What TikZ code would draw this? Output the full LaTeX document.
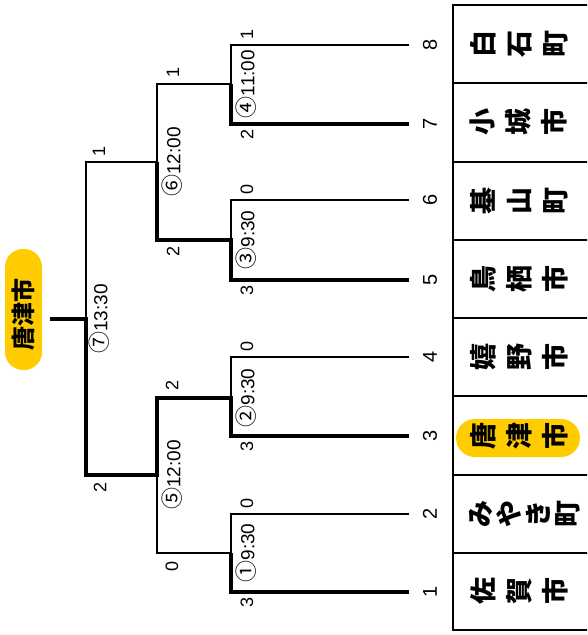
\documentclass[tikz,border=0pt]{standalone}
\usepackage{fontspec}
\setmainfont{Liberation Sans}
\newfontfamily\jp{Noto Sans CJK JP}
\usetikzlibrary{positioning}
\definecolor{badge}{RGB}{255,204,0}
\newcommand\gno[1]{{\jp\fontsize{22}{22}\selectfont #1}}

\begin{document}
\begin{tikzpicture}[line join=miter,x=1pt,y=-1pt,
  thinline/.style={line width=1.7pt},
  winline/.style={line width=4.2pt},
  cell/.style={line width=2.3pt},
  num/.style={rotate=90,inner sep=0pt,outer ysep=14pt,font=\fontsize{20}{20}\selectfont},
  score/.style={rotate=90,inner sep=0pt,font=\fontsize{18}{18}\selectfont},
  game/.style={rotate=90,inner sep=0pt,font=\fontsize{19}{19}\selectfont},
  team/.style={rotate=90,anchor=north,align=center,inner sep=0pt,font=\jp\bfseries\fontsize{27}{36}\selectfont},
  champ/.style={rotate=90,inner sep=0pt,font=\jp\bfseries\fontsize{24}{24}\selectfont}]
\clip(0,0) rectangle (587,635);
% table of teams
\draw[cell] (453,5) rectangle (600,630);
\draw[cell] (453,83)--(600,83);
\draw[cell] (453,162)--(600,162);
\draw[cell] (453,240)--(600,240);
\draw[cell] (453,318)--(600,318);
\draw[cell] (453,396)--(600,396);
\draw[cell] (453,475)--(600,475);
\draw[cell] (453,553)--(600,553);
% yellow marks
\fill[badge,rounded corners=19pt] (456,419) rectangle (580,457);
\fill[badge,rounded corners=18pt] (5,249) rectangle (42,370);
% team names
\node[team] (c1) at (470,591) {佐\\賀\\市};
\node[team,font=\jp\bfseries\fontsize{27}{29}\selectfont] (c2) at (469,514) {み\\や\\き\\町};
\node[team] (c3) at (470,436) {唐\\津\\市};
\node[team] (c4) at (470,357) {嬉\\野\\市};
\node[team] (c5) at (470,279) {鳥\\栖\\市};
\node[team] (c6) at (470,201) {基\\山\\町};
\node[team] (c7) at (470,122) {小\\城\\市};
\node[team] (c8) at (470,44) {白\\石\\町};
% team numbers
\node[num] (n1) at (430,592) {1};
\node[num] (n2) at (430,514) {2};
\node[num] (n3) at (430,436) {3};
\node[num] (n4) at (430,357) {4};
\node[num] (n5) at (430,280) {5};
\node[num] (n6) at (430,200) {6};
\node[num] (n7) at (430,124) {7};
\node[num] (n8) at (430,45) {8};
\node[champ] (champ) at (23.5,314) {唐津市};
% match points
\coordinate (m1t) at (231,514); \coordinate (m1m) at (231,553); \coordinate (m1b) at (231,592);
\coordinate (m2t) at (231,357); \coordinate (m2m) at (231,398); \coordinate (m2b) at (231,436);
\coordinate (m3t) at (231,200); \coordinate (m3m) at (231,240); \coordinate (m3b) at (231,280);
\coordinate (m4t) at (231,45); \coordinate (m4m) at (231,84); \coordinate (m4b) at (231,124);
\coordinate (m5t) at (157,398); \coordinate (m5m) at (157,475); \coordinate (m5b) at (157,553);
\coordinate (m6t) at (157,84); \coordinate (m6m) at (157,162); \coordinate (m6b) at (157,240);
\coordinate (m7t) at (86,162); \coordinate (m7m) at (86,319); \coordinate (m7b) at (86,475);
\coordinate (w) at (50,319);
% losing lines
\draw[thinline] (n2.north)--(m1t)--(m1m)--(m5b)--(m5m);
\draw[thinline] (n4.north)--(m2t)--(m2m);
\draw[thinline] (n6.north)--(m3t)--(m3m);
\draw[thinline] (n8.north)--(m4t)--(m4m)--(m6t)--(m6m)--(m7t)--(m7m);
% winning lines
\draw[winline] (n1.north)--(m1b)--(m1m);
\draw[winline] (n3.north)--(m2b)--(m2m)--(m5t)--(m5m)--(m7b)--(m7m)--(w);
\draw[winline] (n5.north)--(m3b)--(m3m)--(m6b)--(m6m);
\draw[winline] (n7.north)--(m4b)--(m4m);
% scores
\node[score] (s1t) at ([shift={(16,-11)}]m1t) {0};
\node[score] (s1b) at ([shift={(16,10)}]m1b) {3};
\node[score] (s2t) at ([shift={(16,-11)}]m2t) {0};
\node[score] (s2b) at ([shift={(16,10)}]m2b) {3};
\node[score] (s3t) at ([shift={(16,-11)}]m3t) {0};
\node[score] (s3b) at ([shift={(16,10)}]m3b) {3};
\node[score] (s4t) at ([shift={(16,-11)}]m4t) {1};
\node[score] (s4b) at ([shift={(16,10)}]m4b) {2};
\node[score] (s5t) at ([shift={(15,-13)}]m5t) {2};
\node[score] (s5b) at ([shift={(15,13)}]m5b) {0};
\node[score] (s6t) at ([shift={(16,-12)}]m6t) {1};
\node[score] (s6b) at ([shift={(16,11)}]m6b) {2};
\node[score] (s7t) at ([shift={(13,-11)}]m7t) {1};
\node[score] (s7b) at ([shift={(14,12)}]m7b) {2};
% match numbers and times
\node[game] (g1) at ([xshift=15]m1m) {\gno{①}9:30};
\node[game] (g2) at ([xshift=15]m2m) {\gno{②}9:30};
\node[game] (g3) at ([xshift=15]m3m) {\gno{③}9:30};
\node[game] (g4) at ([xshift=15]m4m) {\gno{④}11:00};
\node[game] (g5) at ([xshift=15]m5m) {\gno{⑤}12:00};
\node[game] (g6) at ([xshift=15]m6m) {\gno{⑥}12:00};
\node[game] (g7) at ([xshift=13]m7m) {\gno{⑦}13:30};
\end{tikzpicture}
\end{document}
